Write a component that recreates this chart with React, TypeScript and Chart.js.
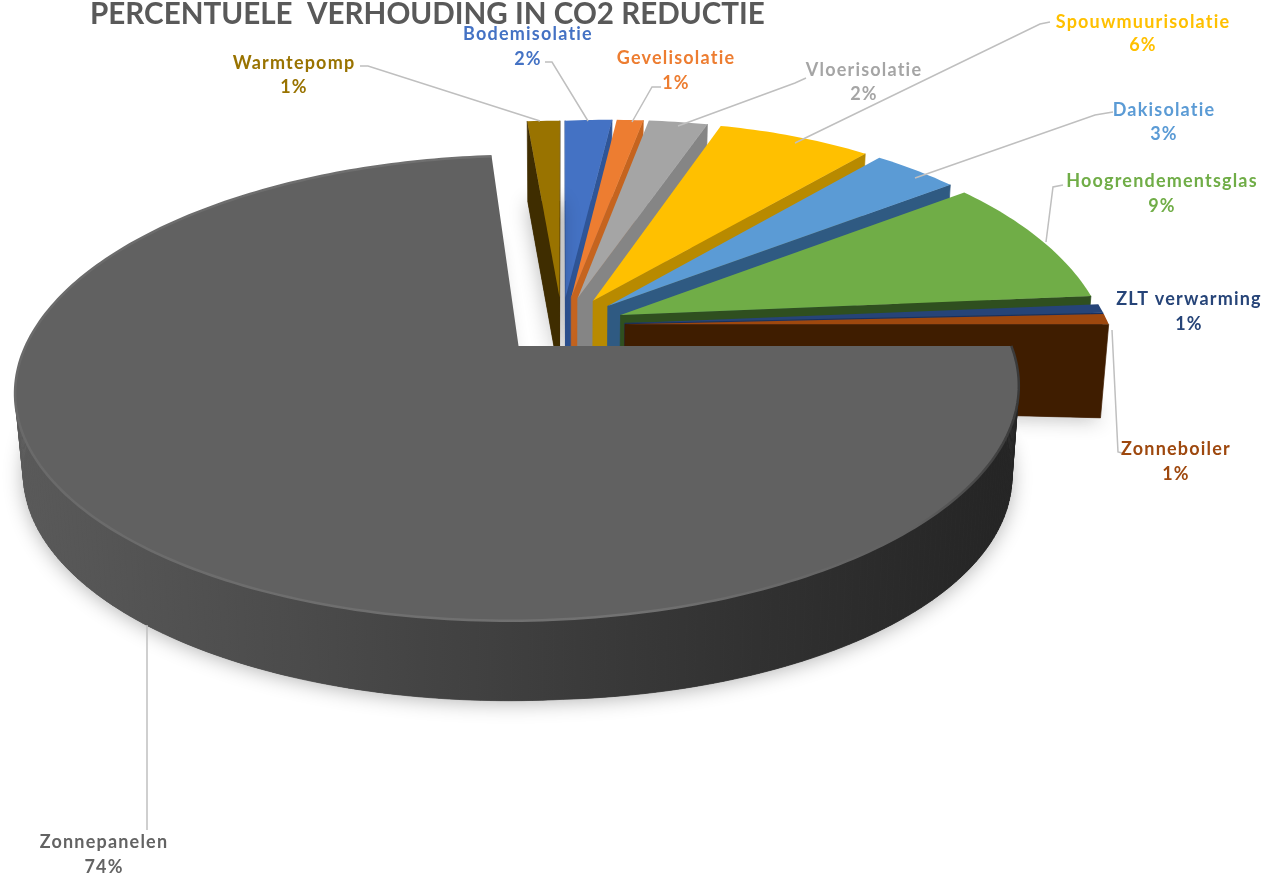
import React, { useEffect, useRef } from "react";
import { Chart, registerables } from "chart.js";

Chart.register(...registerables);

const TITLE = "PERCENTUELE  VERHOUDING IN CO2 REDUCTIE";
const categories = ["Zonnepanelen", "Warmtepomp", "Bodemisolatie", "Gevelisolatie", "Vloerisolatie", "Spouwmuurisolatie", "Dakisolatie", "Hoogrendementsglas", "ZLT verwarming", "Zonneboiler"];
// they round to the printed labels
const percentages = [73.7, 1.3, 1.87, 1.06, 2.37, 6.2, 3.45, 8.75, 0.6, 0.7];
const sliceColors = ["#616161", "#997300", "#4472C4", "#ED7D31", "#A5A5A5", "#FFC000", "#5B9BD5", "#70AD47", "#264478", "#9E480E"];
const wallColors = ["#444444", "#3f2d00", "#2f5597", "#c5641f", "#858585", "#b88a00", "#2f5a82", "#2f4f1f", "#1a3060", "#3f1d00"];
const labelColors = ["#636363", "#997300", "#4472C4", "#ED7D31", "#A5A5A5", "#FFC000", "#5B9BD5", "#70AD47", "#264478", "#9E480E"];
// centre x, name y, percentage y
const labelSpots = [[104, 842, 867], [294, 63, 87], [528, 34, 59], [676, 58, 83], [864, 70, 94], [1143, 22, 45], [1164, 110, 134], [1162, 181, 206], [1189, 299, 324], [1176, 449, 474]];
const leaderLines = [
  [[147, 830], [147, 625]],
  [[360, 66], [368, 66], [540, 121]],
  [[545, 62], [552, 62], [588, 121]],
  [[661, 87], [652, 87], [632, 122]],
  [[806, 78], [795, 83], [678, 126]],
  [[1050, 22], [1040, 24], [795, 143]],
  [[1113, 112], [1095, 115], [915, 178]],
  [[1063, 185], [1053, 187], [1046, 242]],
  [],
  [[1122, 453], [1118, 452], [1112, 330]],
];

const PERSPECTIVE = 0.1857;
const TILT = 215 / 484;
const BOTTOM_SCALE = 0.985;
const DRAW_ORDER = [2, 1, 3, 4, 5, 6, 7, 8, 9, 0];

function project(cx: number, cy: number, R: number, u: number, v: number, low: boolean) {
  const w = 1 - PERSPECTIVE * v;
  let x = cx + (R * u) / w;
  let y = cy + (R * TILT * v) / w - 3 * Math.max(0, -v);
  if (u > 0 && v < 0) y += 14 * u * v;
  if (low) {
    x = cx + (x - cx) * BOTTOM_SCALE;
    y += 80 + 12 * Math.max(0, u);
  }
  return [x, y];
}

function poly(ctx: CanvasRenderingContext2D, pts: number[][]) {
  ctx.beginPath();
  pts.forEach((p, i) => (i ? ctx.lineTo(p[0], p[1]) : ctx.moveTo(p[0], p[1])));
  ctx.closePath();
}

const pie3d = {
  id: "pie3d",
  beforeDatasetsDraw(chart: any) {
    const ctx: CanvasRenderingContext2D = chart.ctx;
    const meta = chart.getDatasetMeta(0);
    const greyWall = ctx.createLinearGradient(17, 0, 1017, 0);
    greyWall.addColorStop(0, "#5a5a5a");
    greyWall.addColorStop(0.3, "#4a4a4a");
    greyWall.addColorStop(0.7, "#333333");
    greyWall.addColorStop(1, "#242424");
    const rim = ctx.createLinearGradient(17, 0, 1017, 0);
    rim.addColorStop(0, "#6a6a6a");
    rim.addColorStop(0.6, "#727272");
    rim.addColorStop(0.9, "#606060");
    rim.addColorStop(1, "#3a3a3a");

    for (const i of DRAW_ORDER) {
      const el = meta.data[i];
      const { x: cx, y: cy, startAngle, endAngle, outerRadius: R } = el.getProps(["x", "y", "startAngle", "endAngle", "outerRadius"], true);
      const mid = (startAngle + endAngle) / 2;
      const e = (el.options.offset || 0) / R;
      const ox = Math.cos(mid) * e;
      const oy = Math.sin(mid) * e;
      const n = Math.max(3, Math.ceil((endAngle - startAngle) / (Math.PI / 180)));
      const plane: number[][] = [[ox, oy]];
      for (let k = 0; k <= n; k++) {
        const a = startAngle + ((endAngle - startAngle) * k) / n;
        plane.push([ox + Math.cos(a), oy + Math.sin(a)]);
      }
      const top = plane.map((p) => project(cx, cy, R, p[0], p[1], false));
      const low = plane.map((p) => project(cx, cy, R, p[0], p[1], true));

      // soft cast shadow
      ctx.save();
      ctx.shadowColor = "rgba(0,0,0,0.3)";
      ctx.shadowBlur = 20;
      ctx.shadowOffsetY = 2;
      ctx.fillStyle = wallColors[i];
      poly(ctx, low);
      ctx.fill();
      ctx.restore();

      // walls, only those facing the viewer
      for (let k = 0; k < top.length; k++) {
        const j = (k + 1) % top.length;
        if (top[j][0] - top[k][0] >= 0) continue;
        const curved = k >= 1 && k < top.length - 1;
        const fill = i === 0 && curved ? greyWall : wallColors[i];
        ctx.fillStyle = fill;
        ctx.strokeStyle = fill;
        ctx.lineWidth = 0.7;
        poly(ctx, [top[k], top[j], low[j], low[k]]);
        ctx.fill();
        ctx.stroke();
      }

      // upper face
      ctx.fillStyle = el.options.backgroundColor;
      poly(ctx, top);
      ctx.fill();

      if (i === 0) {
        ctx.beginPath();
        plane.slice(1).forEach((p, k) => {
          const q = project(cx, cy, R, p[0], p[1], false);
          if (k) ctx.lineTo(q[0], q[1]);
          else ctx.moveTo(q[0], q[1]);
        });
        ctx.strokeStyle = rim;
        ctx.lineWidth = 2.5;
        ctx.stroke();
      }
    }
    return false;
  },
  afterDraw(chart: any) {
    const ctx: CanvasRenderingContext2D = chart.ctx;
    ctx.save();
    ctx.strokeStyle = "#bfbfbf";
    ctx.lineWidth = 1.5;
    leaderLines.forEach((pts) => {
      if (!pts.length) return;
      ctx.beginPath();
      pts.forEach((p, i) => (i ? ctx.lineTo(p[0], p[1]) : ctx.moveTo(p[0], p[1])));
      ctx.stroke();
    });
    ctx.font = "bold 18px Lato";
    (ctx as any).letterSpacing = "1.2px";
    ctx.textAlign = "center";
    ctx.textBaseline = "middle";
    categories.forEach((name, i) => {
      const [x, y1, y2] = labelSpots[i];
      ctx.fillStyle = labelColors[i];
      ctx.fillText(name, x, y1);
      ctx.fillText(Math.round(percentages[i]) + "%", x, y2);
    });
    ctx.restore();
  },
};

export default function App() {
  const ref = useRef<HTMLCanvasElement>(null);
  useEffect(() => {
    document.body.style.margin = "0";
    document.body.style.background = "#ffffff";
    const chart = new Chart(ref.current as HTMLCanvasElement, {
      type: "pie",
      data: {
        labels: categories,
        datasets: [{ data: percentages, backgroundColor: sliceColors, borderWidth: 0, offset: 63, radius: 484 } as any],
      },
      options: {
        animation: false,
        responsive: false,
        rotation: 90,
        events: [],
        layout: { padding: { left: 90, right: 231, top: 0, bottom: 255 } },
        plugins: {
          legend: { display: false },
          tooltip: { enabled: false },
          title: {
            display: true,
            text: TITLE,
            align: "start",
            color: "#595959",
            padding: 0,
            font: { family: "Lato", size: 29.6, weight: "bold", lineHeight: 1.01 },
          },
        },
      } as any,
      plugins: [pie3d],
    });
    return () => chart.destroy();
  }, []);
  return (
    <canvas
      ref={ref}
      width={1265}
      height={875}
      style={{ display: "block", width: 1265, height: 875, filter: "blur(0.5px)" }}
    />
  );
}
